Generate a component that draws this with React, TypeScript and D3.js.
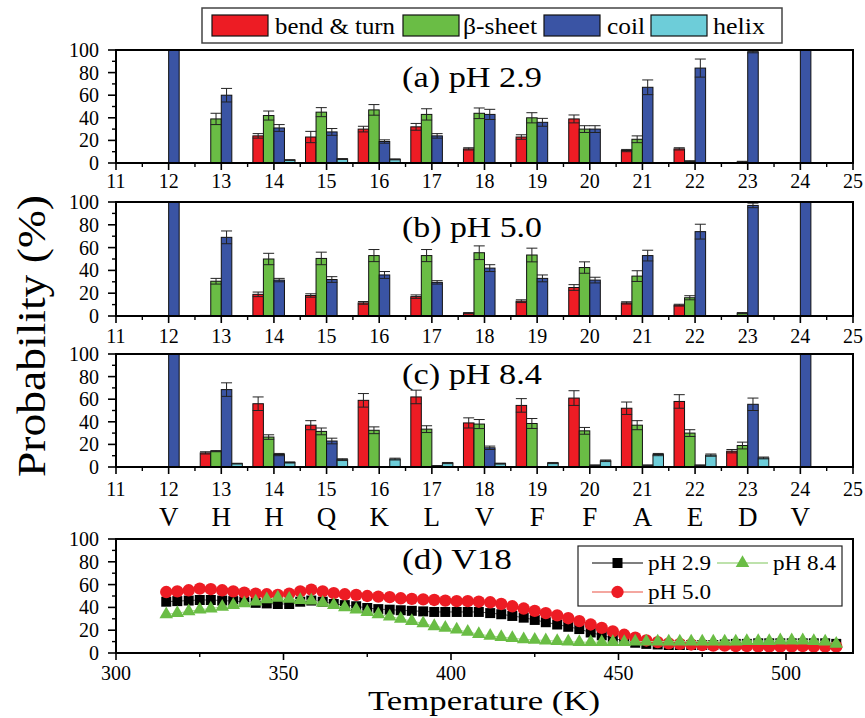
import React from "react";
import * as d3 from "d3";

const FONT = "Liberation Serif, Tinos, DejaVu Serif, serif";

// ---------- data: panels (a)-(c) ----------
const residues = [12, 13, 14, 15, 16, 17, 18, 19, 20, 21, 22, 23, 24];
const residueLetters = ["V", "H", "H", "Q", "K", "L", "V", "F", "F", "A", "E", "D", "V"];
const xTickValues = [11, 12, 13, 14, 15, 16, 17, 18, 19, 20, 21, 22, 23, 24, 25];
const xMinorTicks = [11.5, 12.5, 13.5, 14.5, 15.5, 16.5, 17.5, 18.5, 19.5, 20.5, 21.5, 22.5, 23.5, 24.5];
const yTickValues = [0, 20, 40, 60, 80, 100];
const yMinorTicks = [10, 30, 50, 70, 90];
const seriesNames = ["bend & turn", "β-sheet", "coil", "helix"];
const seriesColors = ["#ed1c24", "#6abd45", "#3a54a4", "#6dcdd9"];

// pH 2.9
const bendA = [0, 0, 24, 23, 30, 32, 12.5, 23, 39, 11, 12.5, 0, 0];
const bendAErr = [0, 0, 2, 5, 2.5, 3, 1, 2, 3.5, 1, 1, 0, 0];
const sheetA = [0, 39, 42, 45, 47, 43, 44, 40, 30, 21, 1.5, 1, 0];
const sheetAErr = [0, 5, 4, 4, 4.7, 5, 4.7, 4.5, 3, 3, 0.5, 0.5, 0];
const coilA = [100, 60, 31, 27.5, 19, 24, 43, 36, 30, 67, 84, 98.5, 100];
const coilAErr = [0, 6, 3, 3, 1.5, 2, 4.5, 3.5, 3, 6.5, 8, 1, 0];
const helixA = [0, 0, 2.6, 3.5, 3.2, 0, 0, 0, 0, 0, 0, 0, 0];
const helixAErr = [0, 0, 0.3, 0.4, 0.4, 0, 0, 0, 0, 0, 0, 0, 0];

// pH 5.0
const bendB = [0, 0.5, 19, 18, 11.5, 17, 2.5, 13, 25, 11.5, 9.5, 0, 0];
const bendBErr = [0, 0, 2, 1.5, 1.2, 1.5, 0.5, 1.2, 2.5, 1, 0.8, 0, 0];
const sheetB = [0, 30.5, 50, 50.5, 53, 53, 55.5, 53.5, 42.5, 35, 16, 2.5, 0];
const sheetBErr = [0, 2.5, 5, 5.5, 5.3, 5.3, 6, 6, 5, 4.7, 1.8, 0.5, 0];
const coilB = [100, 69, 31.5, 32, 36, 29.5, 42, 33, 31.5, 53, 74, 97, 100];
const coilBErr = [0, 5.6, 1.5, 2.5, 3, 1.5, 3, 3, 2.5, 4.7, 6.5, 2, 0];
const helixB = [0, 0, 0, 0, 0, 0, 0, 0, 0, 0, 0, 0, 0];
const helixBErr = [0, 0, 0, 0, 0, 0, 0, 0, 0, 0, 0, 0, 0];

// pH 8.4
const bendC = [0, 12.5, 56, 37, 59, 62, 39, 54.5, 61, 52, 58, 14, 0];
const bendCErr = [0, 1, 6, 4, 6, 6, 4.5, 6, 6.5, 5.5, 6, 1.5, 0];
const sheetC = [0, 14, 26.5, 31.5, 32.5, 33.5, 38, 38.5, 32, 37, 30, 19, 0];
const sheetCErr = [0, 0.5, 2, 3, 3, 3, 4, 4.4, 3, 4, 3, 3, 0];
const coilC = [100, 68.5, 11, 23, 0, 1, 17, 0, 1.5, 1.5, 1.5, 55.5, 100];
const coilCErr = [0, 6, 1, 2.5, 0, 0.3, 1.5, 0, 0.3, 0.3, 0.3, 5.5, 0];
const helixC = [0, 3, 4, 6.5, 7, 3.5, 3, 3.5, 5.5, 11, 10.5, 8, 0];
const helixCErr = [0, 0.3, 0.5, 0.8, 0.8, 0.5, 0.4, 0.5, 0.7, 1, 1, 0.8, 0];

const panelLabels = ["(a) pH 2.9", "(b) pH 5.0", "(c) pH 8.4"];

// ---------- data: panel (d) ----------
const temps = [
  315, 318.3, 321.7, 325, 328.3, 331.7, 335, 338.3, 341.7, 345, 348.3, 351.7, 355, 358.3, 361.7,
  365, 368.3, 371.7, 375, 378.3, 381.7, 385, 388.3, 391.7, 395, 398.3, 401.7, 405, 408.3, 411.7,
  415, 418.3, 421.7, 425, 428.3, 431.7, 435, 438.3, 441.7, 445, 448.3, 451.7, 455, 458.3, 461.7,
  465, 468.3, 471.7, 475, 478.3, 481.7, 485, 488.3, 491.7, 495, 498.3, 501.7, 505, 508.3, 511.7, 515,
];
const v18pH29 = [
  45, 45.5, 46, 46.5, 46.5, 46, 45.5, 45, 44, 43.5, 43, 43, 45, 46, 45,
  43, 42, 41, 39.5, 38.5, 38, 37.5, 37, 36.5, 36, 36, 36, 36, 36, 35,
  34, 32.5, 31, 29, 27, 25, 23, 21, 18, 15.5, 13, 10.5, 9, 8, 7.5,
  7, 7, 7, 7, 7, 7.5, 8, 8, 8.5, 8.5, 8.5, 8.5, 8.5, 8.5, 8.5, 8,
];
const v18pH50 = [
  53.5, 54, 55, 56.5, 56, 55, 54, 53, 52, 51.5, 51, 52, 54, 55.5, 54,
  52.5, 51.5, 51, 50, 49.5, 49, 48, 47.5, 47, 46.5, 46, 45.5, 45.5, 45, 44.5,
  43, 41, 39, 37, 35, 33, 30.5, 28, 25, 22, 19, 16, 13.5, 11, 9.5,
  8.5, 8, 7.5, 7, 6.5, 6.5, 6, 6, 5.5, 5.5, 5.5, 5.5, 6, 5.5, 5.5, 5.5,
];
const v18pH84 = [
  34, 35, 36.5, 38, 39, 40.5, 42, 43.5, 45, 47, 48.5, 47.5, 46.5, 46, 44,
  42, 40, 38, 36, 34, 32, 30, 28, 26, 23.5, 22, 20.5, 18.5, 16.5, 15,
  14, 13, 12, 11.5, 11, 10.5, 10, 9.5, 9.5, 9.5, 9.5, 9.5, 10, 10, 10,
  10, 10, 10, 10, 10, 10, 10, 10.5, 10.5, 10.5, 11, 11, 11, 10.5, 10, 8,
];
const tempTicks = [300, 350, 400, 450, 500];
const tempMinorTicks = [325, 375, 425, 475];

// ---------- layout ----------
const W = 865;
const H = 718;
const left = 116;
const right = 853;
const panelTops = [50, 202, 354];
const panelBottoms = [163, 316, 467];
const labelBaselines = [87, 237, 384];
const tickLabelBaselines = [188, 343, 496];
const dTop = 539;
const dBottom = 653;
const TICK_FS = 20;

const panelData = [
  { vals: [bendA, sheetA, coilA, helixA], errs: [bendAErr, sheetAErr, coilAErr, helixAErr] },
  { vals: [bendB, sheetB, coilB, helixB], errs: [bendBErr, sheetBErr, coilBErr, helixBErr] },
  { vals: [bendC, sheetC, coilC, helixC], errs: [bendCErr, sheetCErr, coilCErr, helixCErr] },
];

const xRes = d3.scaleLinear().domain([11, 25]).range([left, right]);
const xT = d3.scaleLinear().domain([300, 520]).range([left, right]);
const yD = d3.scaleLinear().domain([0, 100]).range([dBottom, dTop]);

function YAxis({ y }: { y: d3.ScaleLinear<number, number> }) {
  return (
    <g>
      {yTickValues.map((v) => (
        <g key={"m" + v}>
          <line x1={left - 8} x2={left} y1={y(v)} y2={y(v)} stroke="#000" strokeWidth={1.6} />
          <text x={99} y={y(v) + 7} textAnchor="end" fontSize={TICK_FS} fontFamily={FONT}>
            {v}
          </text>
        </g>
      ))}
      {yMinorTicks.map((v) => (
        <line key={"n" + v} x1={left - 4} x2={left} y1={y(v)} y2={y(v)} stroke="#000" strokeWidth={1.4} />
      ))}
    </g>
  );
}

function BarPanel({ idx }: { idx: number }) {
  const top = panelTops[idx];
  const bottom = panelBottoms[idx];
  const y = d3.scaleLinear().domain([0, 100]).range([bottom, top]);
  const { vals, errs } = panelData[idx];
  const bw = 0.2;
  return (
    <g>
      {vals.map((series, k) =>
        series.map((v, i) => {
          if (v <= 0) return null;
          const r = residues[i];
          const x0 = xRes(r + (k - 2) * bw);
          const x1 = xRes(r + (k - 1) * bw);
          return (
            <rect
              key={`b${k}-${i}`}
              x={x0}
              y={y(v)}
              width={x1 - x0}
              height={y(0) - y(v)}
              fill={seriesColors[k]}
              stroke="#111"
              strokeWidth={1}
            />
          );
        })
      )}
      {vals.map((series, k) =>
        series.map((v, i) => {
          const e = errs[k][i];
          if (v <= 0 || e <= 0) return null;
          const r = residues[i];
          const xc = xRes(r + (k - 1.5) * bw);
          const cw = 5.5;
          const hi = Math.min(v + e, 100);
          return (
            <g key={`e${k}-${i}`} stroke="#222" strokeWidth={1}>
              <line x1={xc} x2={xc} y1={y(v - e)} y2={y(hi)} />
              <line x1={xc - cw} x2={xc + cw} y1={y(hi)} y2={y(hi)} />
              <line x1={xc - cw} x2={xc + cw} y1={y(v - e)} y2={y(v - e)} />
            </g>
          );
        })
      )}
      <YAxis y={y} />
      {xTickValues.map((t) => (
        <g key={"xt" + t}>
          <line x1={xRes(t)} x2={xRes(t)} y1={bottom} y2={bottom + 7} stroke="#000" strokeWidth={1.6} />
          <text x={xRes(t)} y={tickLabelBaselines[idx]} textAnchor="middle" fontSize={TICK_FS} fontFamily={FONT}>
            {t}
          </text>
        </g>
      ))}
      {xMinorTicks.map((t) => (
        <line key={"xm" + t} x1={xRes(t)} x2={xRes(t)} y1={bottom} y2={bottom + 4} stroke="#000" strokeWidth={1.4} />
      ))}
      <rect x={left} y={top} width={right - left} height={bottom - top} fill="none" stroke="#000" strokeWidth={2} />
      <text
        x={402}
        y={labelBaselines[idx]}
        fontSize={29}
        fontFamily={FONT}
        textLength={140}
        lengthAdjust="spacingAndGlyphs"
      >
        {panelLabels[idx]}
      </text>
    </g>
  );
}

const tempSeries = [
  { name: "pH 2.9", vals: v18pH29, color: "#000000", line: "#555555", shape: d3.symbolSquare, size: 100 },
  { name: "pH 5.0", vals: v18pH50, color: "#ed1c24", line: "#f08a80", shape: d3.symbolCircle, size: 120 },
  { name: "pH 8.4", vals: v18pH84, color: "#6abd45", line: "#a8d890", shape: d3.symbolTriangle, size: 80 },
];

function TempPanel() {
  const lineGen = d3
    .line<number>()
    .x((_, i) => xT(temps[i]))
    .y((d) => yD(d));
  return (
    <g>
      {tempSeries.map((s) => (
        <g key={s.name}>
          <path d={lineGen(s.vals) || ""} fill="none" stroke={s.line} strokeWidth={1} />
          {s.vals.map((v, i) => (
            <path
              key={i}
              d={d3.symbol().type(s.shape).size(s.size)() || ""}
              transform={`translate(${xT(temps[i])},${yD(v)})`}
              fill={s.color}
            />
          ))}
        </g>
      ))}
      <YAxis y={yD} />
      {tempTicks.map((t) => (
        <g key={"tt" + t}>
          <line x1={xT(t)} x2={xT(t)} y1={dBottom} y2={dBottom + 7} stroke="#000" strokeWidth={1.6} />
          <text x={xT(t)} y={680} textAnchor="middle" fontSize={TICK_FS} fontFamily={FONT}>
            {t}
          </text>
        </g>
      ))}
      {tempMinorTicks.map((t) => (
        <line key={"tm" + t} x1={xT(t)} x2={xT(t)} y1={dBottom} y2={dBottom + 4} stroke="#000" strokeWidth={1.4} />
      ))}
      <rect x={left} y={dTop} width={right - left} height={dBottom - dTop} fill="none" stroke="#000" strokeWidth={2} />
      <text x={402} y={569} fontSize={29} fontFamily={FONT} textLength={110} lengthAdjust="spacingAndGlyphs">
        (d) V18
      </text>
      {/* legend */}
      <rect x={578} y={546} width={264} height={60} fill="#fff" stroke="#222" strokeWidth={1.2} />
      {[
        { s: tempSeries[0], x: 592, y: 563 },
        { s: tempSeries[2], x: 717, y: 563 },
        { s: tempSeries[1], x: 592, y: 592 },
      ].map(({ s, x, y }) => (
        <g key={"lg" + s.name}>
          <line x1={x} x2={x + 51} y1={y} y2={y} stroke={s.line} strokeWidth={1.5} />
          <path d={d3.symbol().type(s.shape).size(s.size)() || ""} transform={`translate(${x + 25.5},${y})`} fill={s.color} />
          <text
            x={x + 56}
            y={y + 7}
            fontSize={21}
            fontFamily={FONT}
            textLength={63}
            lengthAdjust="spacingAndGlyphs"
          >
            {s.name}
          </text>
        </g>
      ))}
    </g>
  );
}

function TopLegend() {
  const swatchX = [212, 403, 544, 651];
  const textX = [275, 463, 607, 713];
  const textW = [120, 74, 38, 52];
  return (
    <g>
      <rect x={202} y={8} width={580} height={35} fill="#fff" stroke="#444" strokeWidth={1.5} />
      {seriesNames.map((n, k) => (
        <g key={n}>
          <rect x={swatchX[k]} y={15} width={56} height={21} fill={seriesColors[k]} stroke="#111" strokeWidth={1.2} />
          <text
            x={textX[k]}
            y={34}
            fontSize={23}
            fontFamily={FONT}
            textLength={textW[k]}
            lengthAdjust="spacingAndGlyphs"
          >
            {n}
          </text>
        </g>
      ))}
    </g>
  );
}

export default function App() {
  return (
    <svg
      width={W}
      height={H}
      viewBox={`0 0 ${W} ${H}`}
      style={{ position: "absolute", left: 0, top: 0, background: "#fff" }}
    >
      <rect x={0} y={0} width={W} height={H} fill="#fff" />
      <TopLegend />
      {[0, 1, 2].map((i) => (
        <BarPanel key={i} idx={i} />
      ))}
      {residues.map((r, i) => (
        <text key={"res" + i} x={xRes(r)} y={526} textAnchor="middle" fontSize={27} fontFamily={FONT}>
          {residueLetters[i]}
        </text>
      ))}
      <TempPanel />
      <text
        transform={`translate(45,336) rotate(-90)`}
        textAnchor="middle"
        fontSize={41}
        fontFamily={FONT}
        textLength={282}
        lengthAdjust="spacingAndGlyphs"
      >
        Probability (%)
      </text>
      <text
        x={484}
        y={710}
        textAnchor="middle"
        fontSize={27}
        fontFamily={FONT}
        textLength={232}
        lengthAdjust="spacingAndGlyphs"
      >
        Temperature (K)
      </text>
    </svg>
  );
}
